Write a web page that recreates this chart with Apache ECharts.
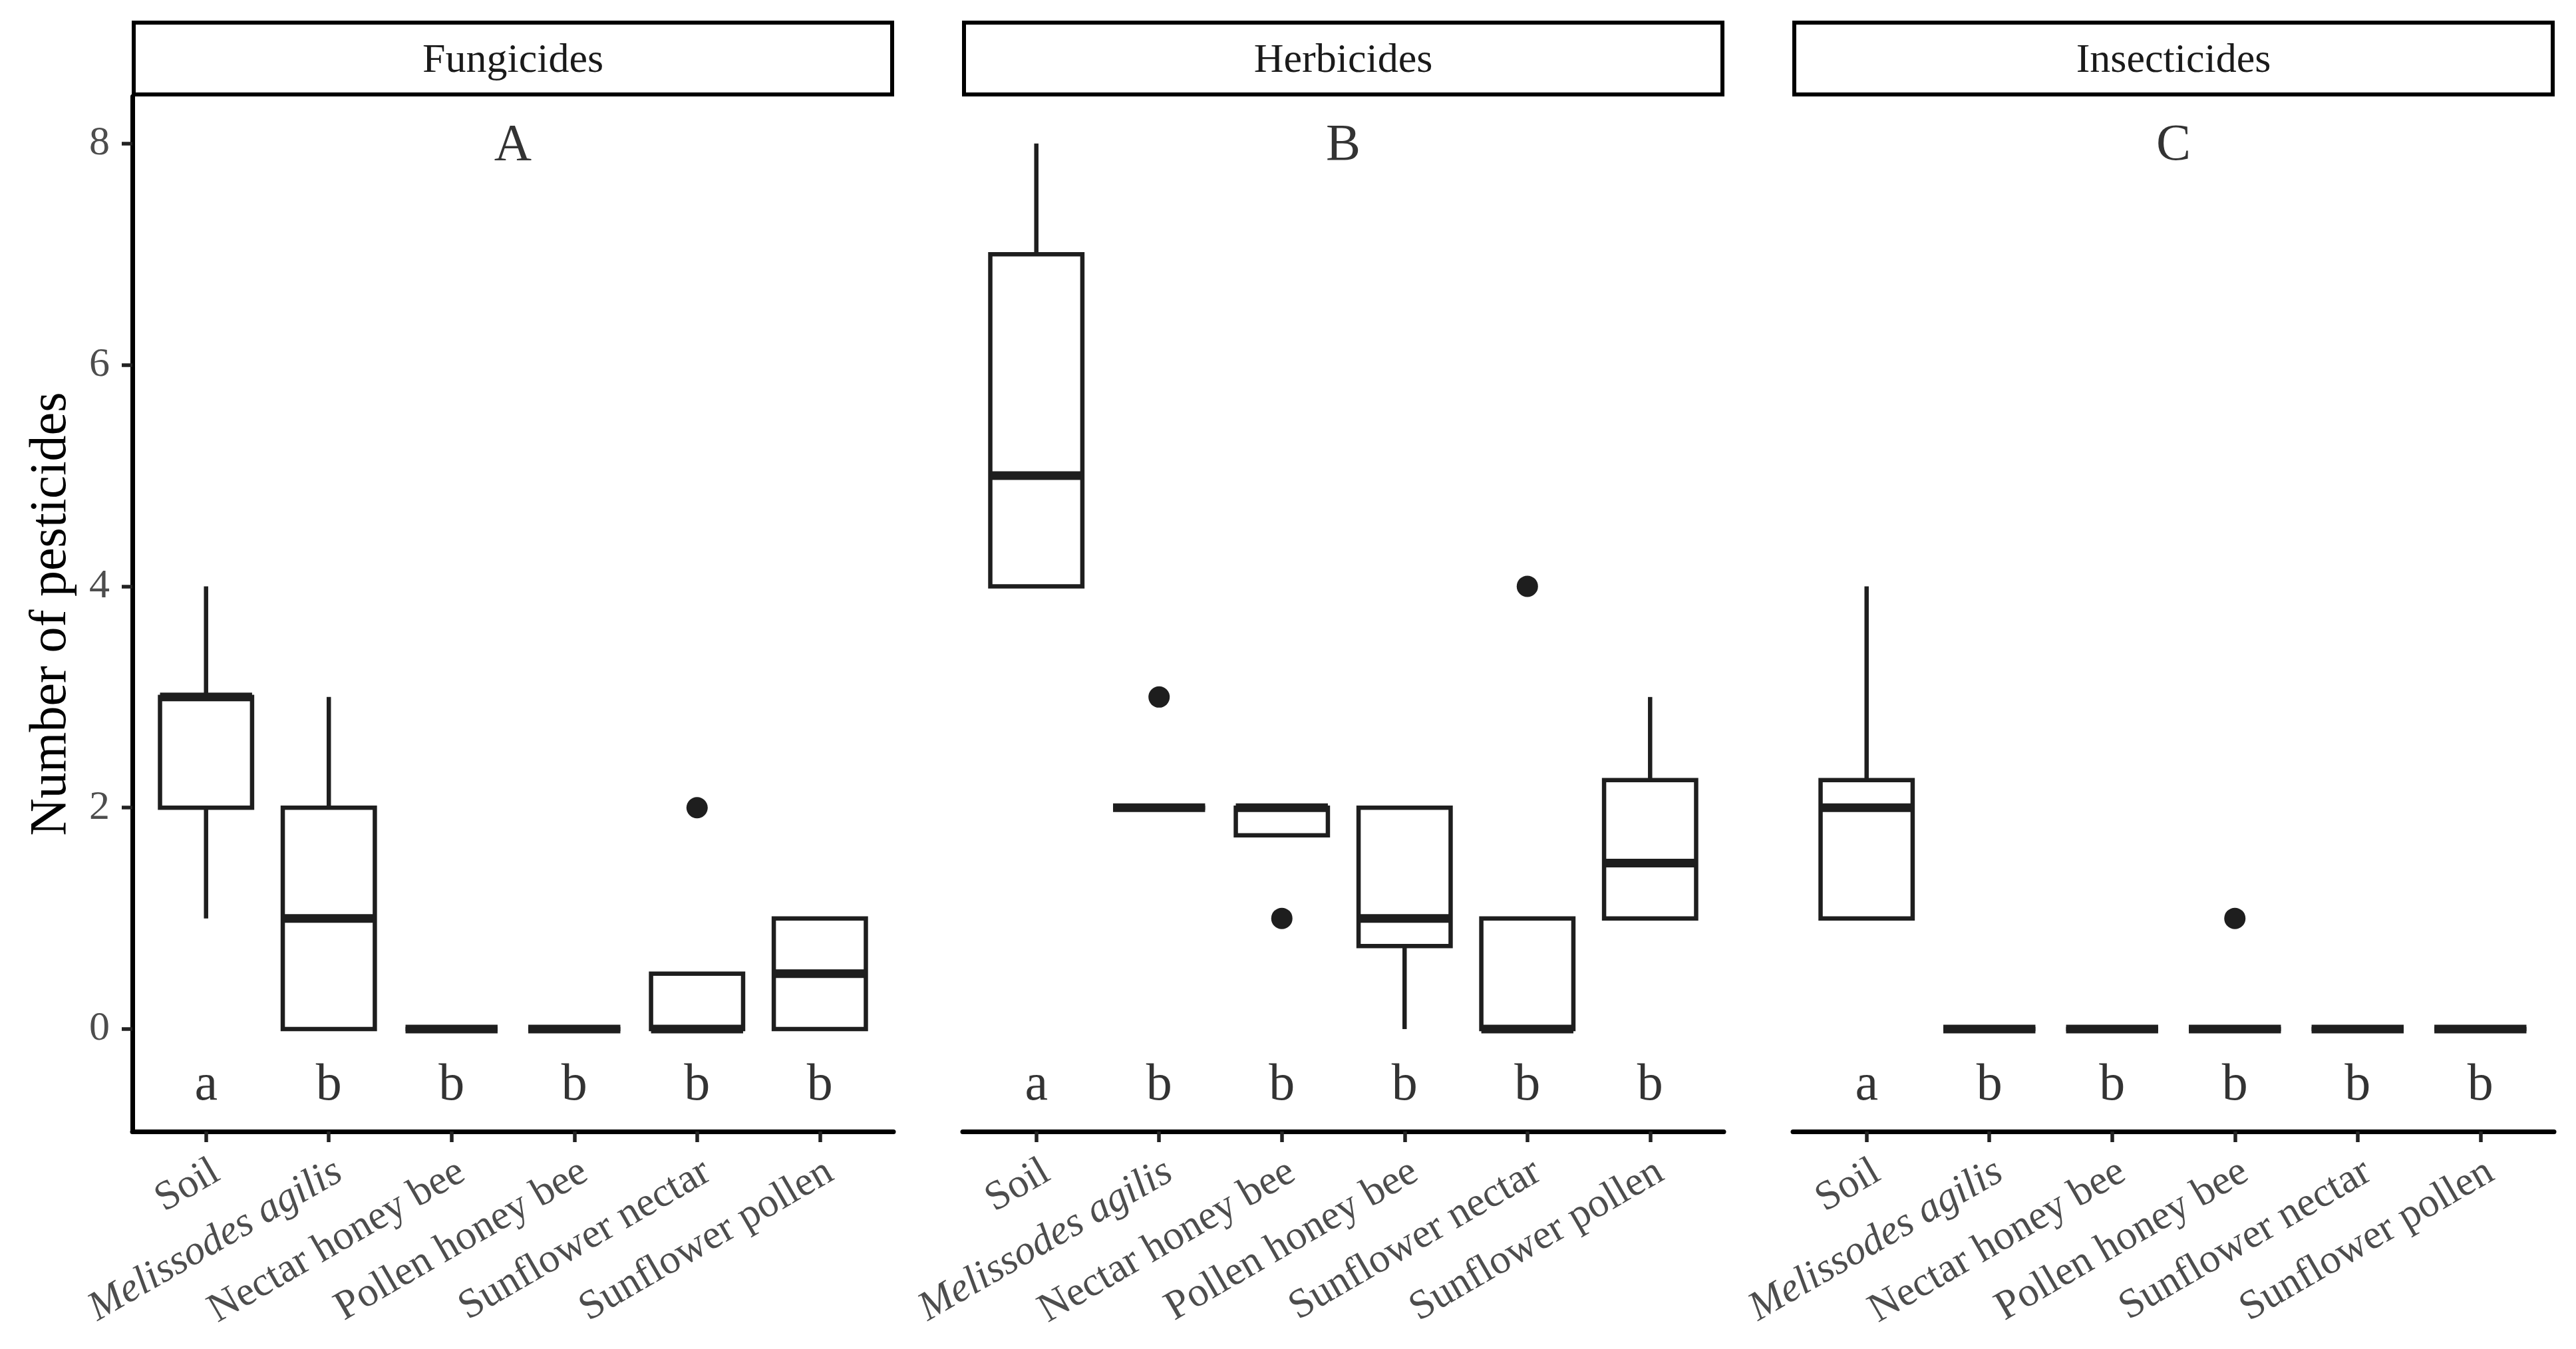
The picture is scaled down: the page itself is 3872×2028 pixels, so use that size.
<!DOCTYPE html>
<html>
<head>
<meta charset="utf-8">
<style>
html,body{margin:0;padding:0;background:#fff;}
#chart{width:3872px;height:2028px;}
</style>
<script src="https://cdn.jsdelivr.net/npm/echarts@6/dist/echarts.min.js"></script>
</head>
<body>
<div id="chart"></div>
<script>
// ---------- data ----------
const categories = ['Soil', 'Melissodes agilis', 'Nectar honey bee', 'Pollen honey bee', 'Sunflower nectar', 'Sunflower pollen'];
const italicCategories = ['Melissodes agilis'];
const panelNames = ['Fungicides', 'Herbicides', 'Insecticides'];
const panelLetters = ['A', 'B', 'C'];
const yTickValues = [0, 2, 4, 6, 8];

// box statistics per category: [lower whisker, Q1, median, Q3, upper whisker]
const fungicidesBoxes = [
  [1, 2, 3, 3, 4],
  [0, 0, 1, 2, 3],
  [0, 0, 0, 0, 0],
  [0, 0, 0, 0, 0],
  [0, 0, 0, 0.5, 0.5],
  [0, 0, 0.5, 1, 1]
];
const herbicidesBoxes = [
  [4, 4, 5, 7, 8],
  [2, 2, 2, 2, 2],
  [1.75, 1.75, 2, 2, 2],
  [0, 0.75, 1, 2, 2],
  [0, 0, 0, 1, 1],
  [1, 1, 1.5, 2.25, 3]
];
const insecticidesBoxes = [
  [1, 1, 2, 2.25, 4],
  [0, 0, 0, 0, 0],
  [0, 0, 0, 0, 0],
  [0, 0, 0, 0, 0],
  [0, 0, 0, 0, 0],
  [0, 0, 0, 0, 0]
];
// outliers: [category position (1-based), value]
const fungicidesOutliers = [[5, 2]];
const herbicidesOutliers = [[2, 3], [3, 1], [5, 4]];
const insecticidesOutliers = [[4, 1]];
// significance letters
const fungicidesLetters = ['a', 'b', 'b', 'b', 'b', 'b'];
const herbicidesLetters = ['a', 'b', 'b', 'b', 'b', 'b'];
const insecticidesLetters = ['a', 'b', 'b', 'b', 'b', 'b'];
const letterLevel = -0.5;
const panelLetterLevel = 8;

// ---------- layout ----------
const FONT = "'Liberation Serif', 'Times New Roman', serif";
const panelLeft = [199, 1447, 2695];
const panelWidth = 1144;
const panelTop = 145;
const panelHeight = 1556;
const boxColor = '#1e1e1e';

const allBoxes = [fungicidesBoxes, herbicidesBoxes, insecticidesBoxes];
const allOutliers = [fungicidesOutliers, herbicidesOutliers, insecticidesOutliers];
const allLetters = [fungicidesLetters, herbicidesLetters, insecticidesLetters];
const xPositions = categories.map((c, i) => i + 1);

function renderBox(params, api) {
  const x = api.value(0);
  const lo = api.value(1), q1 = api.value(2), med = api.value(3), q3 = api.value(4), hi = api.value(5);
  const pLo = api.coord([x, lo]);
  const pQ1 = api.coord([x, q1]);
  const pMed = api.coord([x, med]);
  const pQ3 = api.coord([x, q3]);
  const pHi = api.coord([x, hi]);
  const hw = api.size([0.75, 0])[0] / 2;
  const cx = pQ1[0];
  const children = [];
  if (hi > q3) {
    children.push({type: 'line', shape: {x1: cx, y1: pQ3[1], x2: cx, y2: pHi[1]},
      style: {stroke: boxColor, lineWidth: 6.5}});
  }
  if (lo < q1) {
    children.push({type: 'line', shape: {x1: cx, y1: pQ1[1], x2: cx, y2: pLo[1]},
      style: {stroke: boxColor, lineWidth: 6.5}});
  }
  children.push({type: 'rect', shape: {x: cx - hw, y: pQ3[1], width: 2 * hw, height: pQ1[1] - pQ3[1]},
    style: {fill: '#fff', stroke: boxColor, lineWidth: 6.5}});
  children.push({type: 'line', shape: {x1: cx - hw, y1: pMed[1], x2: cx + hw, y2: pMed[1]},
    style: {stroke: boxColor, lineWidth: 13, lineCap: 'butt'}});
  return {type: 'group', children: children};
}

const labelTextStyle = {fontSize: 62, color: '#4d4d4d', fontFamily: FONT};

const grids = [], xAxes = [], yAxes = [], series = [], graphics = [];
panelNames.forEach((name, i) => {
  grids.push({left: panelLeft[i], top: panelTop, width: panelWidth, height: panelHeight,
    containLabel: false, outerBoundsMode: 'none'});
  xAxes.push({
    type: 'value', gridIndex: i, min: 0.4, max: 6.6,
    splitLine: {show: false},
    axisLine: {show: true, onZero: false, lineStyle: {color: '#000', width: 7}},
    axisTick: {show: true, customValues: xPositions, length: 16, lineStyle: {color: '#222', width: 5.5}},
    axisLabel: Object.assign({
      show: true, customValues: xPositions,
      showMinLabel: true, showMaxLabel: true, hideOverlap: false,
      formatter: v => {
        const c = categories[Math.round(v) - 1] || '';
        return italicCategories.indexOf(c) >= 0 ? '{it|' + c + '}' : '{up|' + c + '}';
      },
      rotate: 30, align: 'right', verticalAlign: 'top', margin: 30,
      rich: {
        it: Object.assign({fontStyle: 'italic'}, labelTextStyle),
        up: Object.assign({fontStyle: 'normal'}, labelTextStyle)
      }
    }, labelTextStyle)
  });
  yAxes.push({
    type: 'value', gridIndex: i, min: -0.925, max: 8.425,
    show: i === 0,
    splitLine: {show: false},
    axisLine: {show: true, onZero: false, lineStyle: {color: '#000', width: 7}},
    axisTick: {show: true, customValues: yTickValues, length: 16, lineStyle: {color: '#222', width: 5.5}},
    axisLabel: {show: true, customValues: yTickValues, margin: 34,
      fontSize: 62, color: '#4d4d4d', fontFamily: FONT}
  });

  series.push({
    type: 'custom', xAxisIndex: i, yAxisIndex: i,
    renderItem: renderBox,
    encode: {x: 0, y: [1, 2, 3, 4, 5]},
    data: allBoxes[i].map((b, j) => [j + 1].concat(b)),
    silent: true, z: 2
  });
  series.push({
    type: 'scatter', xAxisIndex: i, yAxisIndex: i,
    symbol: 'circle', symbolSize: 32,
    itemStyle: {color: boxColor, opacity: 1},
    data: allOutliers[i], silent: true, z: 3
  });
  const letters = allLetters[i];
  series.push({
    type: 'scatter', xAxisIndex: i, yAxisIndex: i,
    symbol: 'circle', symbolSize: 1, itemStyle: {color: 'rgba(0,0,0,0)'},
    data: letters.map((l, j) => [j + 1, letterLevel]),
    label: {show: true, position: 'inside', formatter: p => letters[p.dataIndex],
      fontSize: 78, color: '#000', fontFamily: FONT, offset: [0, 2]},
    silent: true, z: 4
  });
  series.push({
    type: 'scatter', xAxisIndex: i, yAxisIndex: i,
    symbol: 'circle', symbolSize: 1, itemStyle: {color: 'rgba(0,0,0,0)'},
    data: [[3.5, panelLetterLevel]],
    label: {show: true, position: 'inside', formatter: () => panelLetters[i],
      fontSize: 78, color: '#000', fontFamily: FONT, offset: [0, 4]},
    silent: true, z: 4
  });

  // facet strip
  graphics.push({
    type: 'rect', shape: {x: panelLeft[i] + 2, y: 34, width: panelWidth - 4, height: 108},
    style: {fill: '#fff', stroke: '#000', lineWidth: 6}, z: 10
  });
  graphics.push({
    type: 'text', x: panelLeft[i] + panelWidth / 2, y: 92,
    style: {text: name, fontSize: 62, fontFamily: FONT, fill: '#1a1a1a', align: 'center', verticalAlign: 'middle'},
    z: 11
  });
});
graphics.push({
  type: 'text', x: 78, y: panelTop + panelHeight / 2, rotation: Math.PI / 2,
  style: {text: 'Number of pesticides', fontSize: 78, fontFamily: FONT, fill: '#000', align: 'center', verticalAlign: 'middle'}
});

const chart = echarts.init(document.getElementById('chart'));
chart.setOption({
  animation: false,
  backgroundColor: '#fff',
  grid: grids,
  xAxis: xAxes,
  yAxis: yAxes,
  series: series,
  graphic: graphics
});
</script>
</body>
</html>
